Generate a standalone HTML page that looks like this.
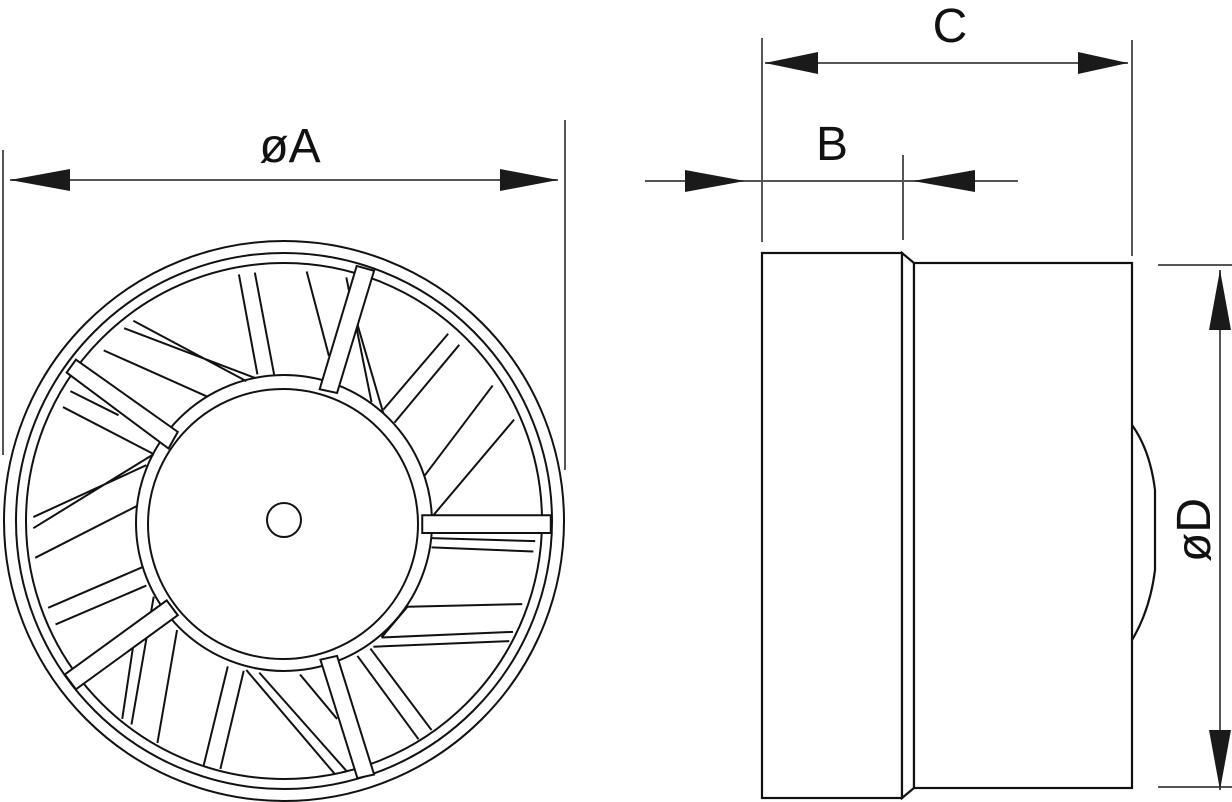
<!DOCTYPE html>
<html><head><meta charset="utf-8"><style>
html,body{margin:0;padding:0;background:#fff;}
svg{display:block;}
text{font-family:"Liberation Sans",sans-serif;fill:#111;}
</style></head><body>
<svg width="1232" height="802" viewBox="0 0 1232 802" xmlns="http://www.w3.org/2000/svg">
<g stroke="#555" stroke-width="2" fill="none">
<line x1="3" y1="150" x2="3" y2="455"/>
<line x1="565" y1="120" x2="565" y2="470"/>
<line x1="10" y1="180" x2="558" y2="180"/>
<line x1="762" y1="38" x2="762" y2="242"/>
<line x1="1132" y1="40" x2="1132" y2="256"/>
<line x1="765" y1="63" x2="1128" y2="63"/>
<line x1="645" y1="181" x2="1018" y2="181"/>
<line x1="903" y1="155" x2="903" y2="240"/>
<line x1="1220" y1="270" x2="1220" y2="790"/>
<line x1="1158" y1="265" x2="1232" y2="265"/>
<line x1="1158" y1="787" x2="1232" y2="787"/>
</g>
<g fill="#1a1a1a">
<polygon points="10,180 70,169 70,191"/>
<polygon points="558,180 500,169 500,191"/>
<polygon points="765,63 818,52 818,74"/>
<polygon points="1128,63 1078,52 1078,74"/>
<polygon points="745,181 685,170 685,192"/>
<polygon points="913,181 975,170 975,192"/>
<polygon points="1220,270 1209,330 1231,330"/>
<polygon points="1220,790 1209,730 1231,730"/>
</g>
<text x="290" y="162" font-size="48" text-anchor="middle">øA</text>
<text x="950" y="42" font-size="48" text-anchor="middle">C</text>
<text x="832" y="160" font-size="48" text-anchor="middle">B</text>
<text x="0" y="0" font-size="48" text-anchor="middle" transform="translate(1210,530) rotate(-90)">øD</text>
<!-- side view -->
<g stroke="#111" stroke-width="2.2" fill="#fff">
<rect x="762" y="253" width="140" height="545"/>
<polygon points="902,253 914,263 914,788 902,798"/>
<rect x="914" y="263" width="218" height="525"/>
<path d="M1132,425 Q1150,450 1155,490 L1155,570 Q1150,610 1132,640" fill="none"/>
</g>
<!-- front view -->
<g stroke="#111" stroke-width="2" fill="none">
<circle cx="284" cy="521" r="280"/>
<circle cx="284" cy="521" r="268"/>
<circle cx="284" cy="521" r="258"/>
<circle cx="284" cy="523" r="148"/>
<circle cx="283" cy="524" r="135"/>
<circle cx="284" cy="520" r="17"/>
<g transform="translate(0,230) scale(0.3704)">
<g vector-effect="non-scaling-stroke" stroke-width="5.4">
<path d="M645,120 L695,390 M688,115 L740,390"/>
<path d="M828,112 L888,340 M935,128 L1003,465 M965,255 L1035,495"/>
<polygon points="963,97 1010,110 910,440 863,430" fill="#fff"/>
<path d="M1210,280 L1035,485 M1240,310 L1065,520"/>
<path d="M1330,420 L1145,665 M1388,512 L1170,770"/>
<polygon points="1140,770 1487,770 1487,818 1140,818" fill="#fff"/>
<path d="M1165,832 L1445,840 M1165,857 L1440,868"/>
<path d="M1100,1017 L1410,1010 M1030,1100 L1385,1085 M1008,1125 L1375,1110 M1030,1100 L1100,1017"/>
<path d="M1000,1130 L1165,1350 M965,1150 L1130,1375"/>
<polygon points="865,1160 910,1150 1010,1470 965,1480" fill="#fff"/>
<path d="M665,1188 L905,1470 M700,1195 L935,1460 M810,1200 L910,1320"/>
<path d="M615,1178 L550,1445 M658,1190 L595,1455"/>
<path d="M478,1080 L425,1385 M415,990 L355,1335 M360,1120 L330,1320"/>
<polygon points="175,1200 450,1000 480,1040 205,1240" fill="#fff"/>
<path d="M130,1020 L385,910 M150,1065 L395,960"/>
<path d="M95,885 L370,745 M90,775 L395,635 M90,805 L415,605"/>
<polygon points="180,385 205,350 480,545 455,590" fill="#fff"/>
<path d="M170,478 L415,605 M190,435 L320,500"/>
<path d="M280,325 L560,450 M335,265 L690,400 M360,245 L665,408"/>
</g>
</g>
</g>
</svg>
</body></html>
